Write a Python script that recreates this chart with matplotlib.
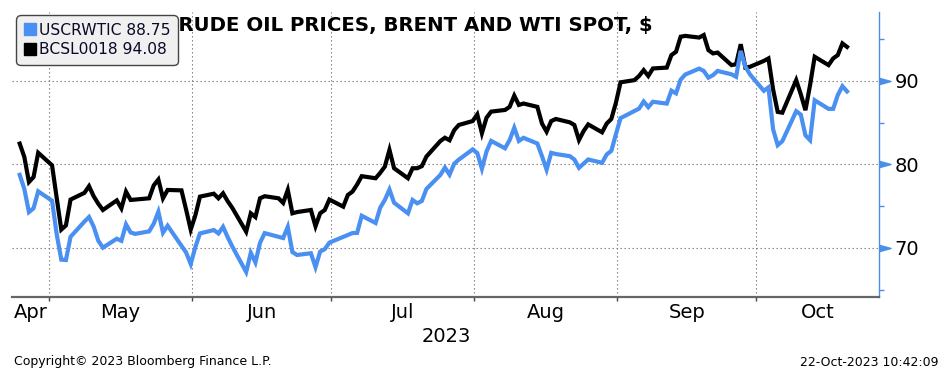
import pandas as pd
import matplotlib
matplotlib.use('Agg')
import matplotlib.pyplot as plt
import matplotlib.dates as mdates
from matplotlib.lines import Line2D
from matplotlib.path import Path

# dias úteis do gráfico (None = sem cotação naquele dia)
datas = pd.bdate_range('2023-04-24', '2023-10-20')

wti = [
    # abr
    78.76, 77.07, 74.30, 74.76, 76.78,
    # mai
    75.66, 71.66, 68.60, 68.56, 71.34, 73.16, 73.71, 72.56, 70.87, 70.04,
    71.11, 70.86, 72.83, 71.86, 71.69, 71.99, 72.91, 74.34, 71.83, 72.67,
    None, 69.46, 68.09,
    # jun
    70.10, 71.74, 72.15, 71.74, 72.53, 71.29, 70.17, 67.12, 69.42, 68.27,
    70.62, 71.78, None, 71.19, 72.53, 69.51, 69.16, 69.37, 67.70, 69.56,
    69.86, 70.64,
    # jul
    None, None, 71.79, 71.80, 73.86, 72.99, 74.83, 75.75, 77.00, 75.42,
    74.15, 75.75, 75.35, 75.63, 77.07, 78.74, 79.63, 78.78, 80.09, 80.58,
    81.80,
    # ago
    81.37, 79.49, 81.55, 82.82, 81.94, 82.92, 84.40, 82.82, 83.19, 82.51,
    80.99, 79.38, 81.40, 81.25, 81.00, 80.60, 79.60, 80.10, 80.60, 80.20,
    81.20, 81.63, 83.63,
    # set
    85.55, None, 86.69, 87.54, 86.87, 87.51, 87.29, 88.84, 88.52, 90.16,
    90.77, 91.48, 91.20, 90.40, 90.70, 91.20, 90.80, 90.50, 93.60, 91.71,
    90.79,
    # out
    88.82, 89.23, 84.22, 82.31, 82.79, 86.38, 85.97, 83.49, 82.91, 87.69,
    86.66, 86.66, 88.32, 89.37, 88.75,
]

brent = [
    # abr
    82.50, 80.90, 77.90, 78.50, 81.40,
    # mai
    79.90, 76.00, 72.20, 72.70, 75.80, 76.60, 77.40, 76.20, 75.30, 74.55,
    75.70, 74.75, 76.75, 75.75, 75.80, 75.95, 77.50, 78.20, 75.95, 76.95,
    76.90, 74.60, 72.20,
    # jun
    73.90, 76.15, 76.50, 75.95, 76.55, 75.60, 74.80, 71.95, 74.15, 73.70,
    75.95, 76.20, 75.95, 75.40, 76.95, 74.15, 74.30, 74.55, 72.60, 74.15,
    74.55, 75.80,
    # jul
    74.95, 76.35, 76.75, 77.60, 78.60, 78.35, 79.00, 79.75, 81.75, 79.55,
    78.35, 79.55, 79.55, 79.80, 80.95, 82.80, 83.20, 82.90, 84.10, 84.73,
    85.20,
    # ago
    86.00, 83.74, 85.60, 86.33, 86.53, 86.90, 88.24, 87.13, 87.30, 86.90,
    84.90, 83.93, 85.20, 85.45, 85.05, 84.73, 82.93, 84.00, 84.80, 83.85,
    84.90, 85.45, 87.40,
    # set
    89.84, 90.10, 90.60, 91.30, 90.60, 91.50, 91.60, 93.10, 93.50, 95.30,
    95.40, 95.20, 95.50, 93.70, 93.30, 93.40, 91.90, 92.00, 94.40, 91.60,
    91.70,
    # out
    92.40, 92.70, 89.00, 86.30, 86.20, 90.10, 88.40, 86.50, 89.50, 92.90,
    91.90, 92.70, 93.10, 94.50, 94.08,
]

meses = ['Apr', 'May', 'Jun', 'Jul', 'Aug', 'Sep', 'Oct']
ticks_y = [70, 80, 90]
ticks_y_menores = [65, 75, 85, 95]

azul = '#4a8ff2'
azul_eixo = '#4a8fe8'

# cotações de fechamento (fim do dia)
fechamento = datas + pd.Timedelta(hours=16)
s_wti = pd.Series(wti, index=fechamento, dtype=float).dropna()
s_brent = pd.Series(brent, index=fechamento, dtype=float).dropna()

fig = plt.figure(figsize=(9.52, 3.92), dpi=100)
ax = fig.add_axes([12 / 952, 95 / 392, 867 / 952, 285 / 392])

x_ini = mdates.date2num(pd.Timestamp('2023-04-23'))
x_fim = mdates.date2num(pd.Timestamp('2023-10-27 14:00'))
ax.set_xlim(x_ini, x_fim)
ax.set_ylim(64.13, 98.26)

ax.plot(mdates.date2num(s_brent.index), s_brent.values, color='black', lw=3.0,
        solid_joinstyle='miter', zorder=2)
ax.plot(mdates.date2num(s_wti.index), s_wti.values, color=azul, lw=3.0,
        solid_joinstyle='miter', zorder=2.1)

# eixo x: divisões de mês + rótulos centrados
limites = [mdates.date2num(d) for d in pd.date_range('2023-05-01', '2023-10-01', freq='MS')]
bordas = [x_ini] + limites + [x_fim]
centros = [(a + b) / 2 for a, b in zip(bordas[:-1], bordas[1:])]
ax.set_xticks(limites)
ax.set_xticklabels([])
ax.set_xticks(centros, minor=True)
ax.set_xticklabels(meses, minor=True)
ax.tick_params(axis='x', which='major', length=3, width=1, color='#444444', direction='out')
ax.tick_params(axis='x', which='minor', length=0, pad=4, labelsize=14)

# eixo y à direita
ax.yaxis.tick_right()
ax.set_yticks(ticks_y)
ax.set_yticks(ticks_y_menores, minor=True)
ax.tick_params(axis='y', which='major', length=0, pad=11, labelsize=14)
ax.tick_params(axis='y', which='minor', length=3.5, width=1, color=azul_eixo, direction='out')

seta = Path([(-1, -0.55), (1, 0), (-1, 0.55), (-1, -0.55)],
            [Path.MOVETO, Path.LINETO, Path.LINETO, Path.CLOSEPOLY])
ax.plot([1.0065] * len(ticks_y), ticks_y, ls='none', marker=seta, ms=8,
        color=azul_eixo, transform=ax.get_yaxis_transform(), clip_on=False)

ax.grid(True, which='major', linestyle=(0, (1.2, 2.4)), color='#777777', lw=0.8)

for lado in ['left', 'top']:
    ax.spines[lado].set_visible(False)
ax.spines['bottom'].set_color('#666666')
ax.spines['bottom'].set_linewidth(1.6)
ax.spines['right'].set_color(azul_eixo)
ax.spines['right'].set_linewidth(1)

# legenda
handles = [
    Line2D([], [], marker='s', ls='none', color=azul, ms=9),
    Line2D([], [], marker='s', ls='none', color='black', ms=9),
]
rotulos = [f'USCRWTIC {wti[-1]:.2f}', f'BCSL0018 {brent[-1]:.2f}']
leg = ax.legend(handles, rotulos, loc='upper left', bbox_to_anchor=(4 / 867, 1 - 3 / 285),
                borderaxespad=0, fancybox=True, framealpha=1, facecolor='#f0f0f0',
                edgecolor='#444444', handletextpad=0.15, handlelength=0.8,
                borderpad=0.5, labelspacing=0.3, fontsize=11.2)
leg.get_frame().set_boxstyle('round', pad=0, rounding_size=0.3)
for t in leg.get_texts():
    t.set_color('#0a0a28')

ax.text(408 / 952, 1 - 26 / 392, 'CRUDE OIL PRICES, BRENT AND WTI SPOT, $',
        transform=fig.transFigure, ha='center', va='center', fontsize=14.2,
        fontweight='bold', zorder=4)

fig.text(446 / 952, 1 - 337 / 392, '2023', ha='center', va='center', fontsize=14)
fig.text(14 / 952, 1 - 362 / 392, 'Copyright© 2023 Bloomberg Finance L.P.',
         ha='left', va='center', fontsize=9)
fig.text(938 / 952, 1 - 362 / 392, '22-Oct-2023 10:42:09',
         ha='right', va='center', fontsize=9)

fig.savefig('out.png', dpi=100)
